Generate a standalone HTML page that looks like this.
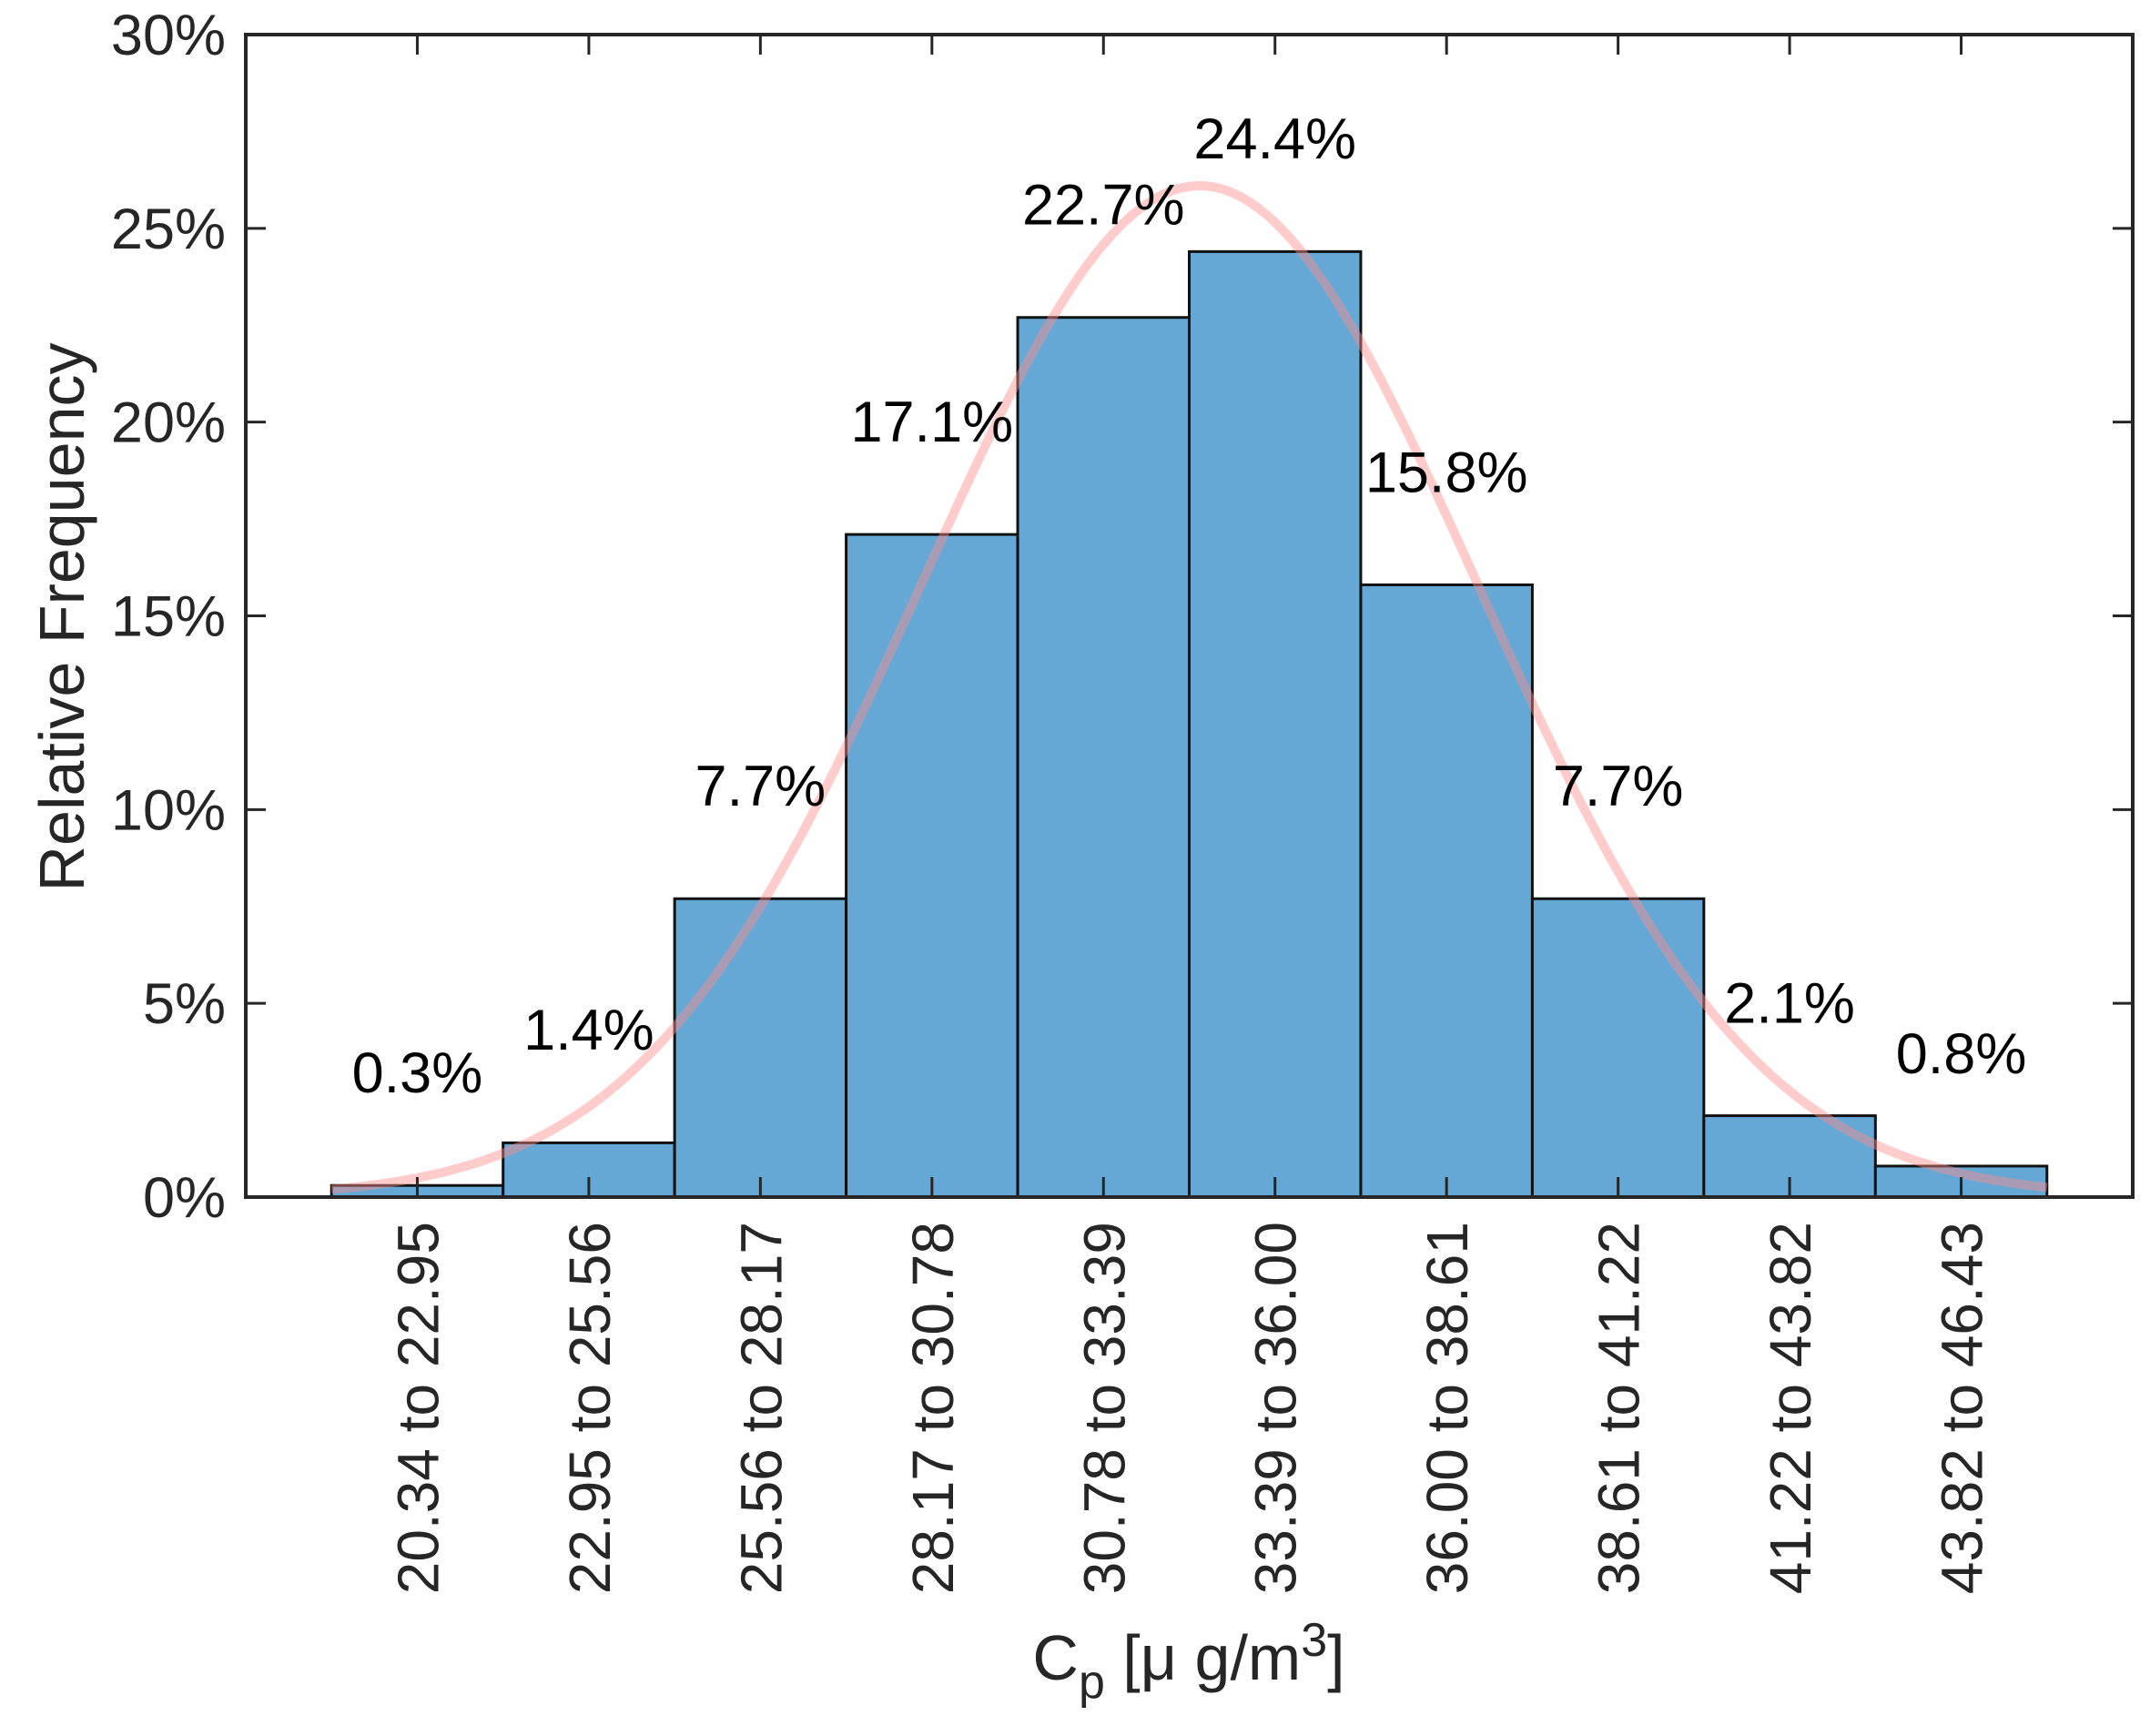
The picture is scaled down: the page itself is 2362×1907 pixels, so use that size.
<!DOCTYPE html>
<html><head><meta charset="utf-8"><style>
body{margin:0;background:#fff}
svg text{font-family:"Liberation Sans",Arial,sans-serif}
</style></head><body>
<svg id="chart" width="2362" height="1902" viewBox="0 0 2362 1902" xmlns="http://www.w3.org/2000/svg">
<rect width="2362" height="1902" fill="#fff"/>
<g id="bars"></g>
<path id="fit" fill="none" stroke="rgb(255,140,140)" stroke-opacity="0.45" stroke-width="10"/>
<g id="axes"></g>
<g id="labels"></g>
<text transform="translate(92,678) rotate(-90)" text-anchor="middle" font-size="70" fill="#262626">Relative Frequency</text>
<text x="1306" y="1845" text-anchor="middle" font-size="70" fill="#262626">C<tspan font-size="52" dy="20">p</tspan><tspan dy="-20"> [μ g/m</tspan><tspan font-size="52" dy="-26">3</tspan><tspan dy="26">]</tspan></text>
</svg>
<script>
const categories=["20.34 to 22.95","22.95 to 25.56","25.56 to 28.17","28.17 to 30.78","30.78 to 33.39","33.39 to 36.00","36.00 to 38.61","38.61 to 41.22","41.22 to 43.82","43.82 to 46.43"];
const values=[0.3,1.4,7.7,17.1,22.7,24.4,15.8,7.7,2.1,0.8];
const yTicks=[0,5,10,15,20,25,30];
const fitPeak=26.1, fitMean=4.56, fitSigma=1.62;
const L=270,R=2343,T=38,B=1315;
const NS="http://www.w3.org/2000/svg";
const xs=i=>L+(i+1)*(R-L)/(categories.length+1);
const bw=(R-L)/(categories.length+1);
const ys=v=>B-(v/30)*(B-T);
function mk(tag,attrs,parent){const e=document.createElementNS(NS,tag);for(const k in attrs)e.setAttribute(k,attrs[k]);parent.appendChild(e);return e;}
const bars=document.getElementById('bars'),axes=document.getElementById('axes'),labels=document.getElementById('labels');
values.forEach((v,i)=>{
 const r=mk('rect',{x:xs(i)-bw/2,y:ys(v),width:bw,height:B-ys(v),fill:'#65a8d6',stroke:'#111','stroke-width':3},bars);
 
 
 const t=mk('text',{x:xs(i),y:ys(v+2.4),'text-anchor':'middle','font-size':63,fill:'#000'},labels);
 t.textContent=v.toFixed(1)+'%';
 
 
});
let d='';
for(let k=0;k<=200;k++){const u=-0.5+k*(categories.length)/200;const v=fitPeak*Math.exp(-((u-fitMean)**2)/(2*fitSigma*fitSigma));d+=(k?'L':'M')+xs(u).toFixed(1)+','+ys(v).toFixed(1);}
document.getElementById('fit').setAttribute('d',d);
const fr=mk('rect',{x:L,y:T,width:R-L,height:B-T,fill:'none',stroke:'#262626','stroke-width':4},axes);


yTicks.forEach(v=>{
 mk('line',{x1:L,x2:L+22,y1:ys(v),y2:ys(v),stroke:'#262626','stroke-width':3},axes);
 mk('line',{x1:R,x2:R-22,y1:ys(v),y2:ys(v),stroke:'#262626','stroke-width':3},axes);
 const t=mk('text',{x:L-22,y:ys(v)+22,'text-anchor':'end','font-size':63,fill:'#262626'},axes);
 t.textContent=v+'%';
 
 
});
categories.forEach((c,i)=>{
 mk('line',{x1:xs(i),x2:xs(i),y1:B,y2:B-22,stroke:'#262626','stroke-width':3},axes);
 mk('line',{x1:xs(i),x2:xs(i),y1:T,y2:T+22,stroke:'#262626','stroke-width':3},axes);
 const t=mk('text',{transform:`translate(${xs(i)+23},1342) rotate(-90)`,'text-anchor':'end','font-size':64,fill:'#262626'},axes);
 t.textContent=c;
 
 
});
</script>
</body></html>
